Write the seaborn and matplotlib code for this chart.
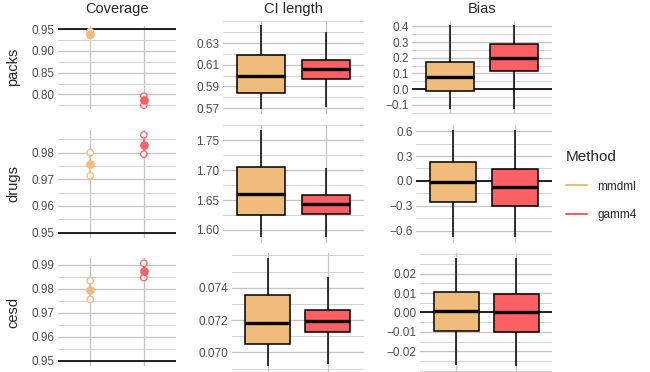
import numpy as np
import pandas as pd
import matplotlib
matplotlib.use("Agg")
import matplotlib.pyplot as plt
import seaborn as sns
from matplotlib.lines import Line2D
from matplotlib.ticker import FixedLocator, AutoMinorLocator, FixedFormatter

methods = ["mmdml", "gamm4"]
outcomes = ["packs", "drugs", "cesd"]
colors = ["#F0BC7C", "#FC6064"]

# coverage per outcome, [mmdml, gamm4]
cov_lo = [[0.936, 0.775], [0.9713, 0.9794], [0.9756, 0.9847]]
cov_est = [[0.940, 0.786], [0.9757, 0.9829], [0.9795, 0.9876]]
cov_hi = [[0.945, 0.796], [0.9800, 0.9866], [0.9834, 0.9907]]
cov_ref = 0.95

# box stats per outcome and method: lower whisker, q1, median, q3, upper whisker
ci_stats = [
    [[0.569, 0.5838, 0.5995, 0.6186, 0.6469], [0.571, 0.597, 0.606, 0.6146, 0.640]],
    [[1.5877, 1.6247, 1.6605, 1.7047, 1.7668], [1.5877, 1.6264, 1.6426, 1.6577, 1.704]],
    [[0.06915, 0.0705, 0.0718, 0.07355, 0.07582], [0.06925, 0.07126, 0.07196, 0.07262, 0.07468]],
]
bias_stats = [
    [[-0.128, -0.011, 0.078, 0.173, 0.4105], [-0.128, 0.116, 0.201, 0.289, 0.41]],
    [[-0.68, -0.259, -0.015, 0.230, 0.61], [-0.68, -0.303, -0.075, 0.146, 0.61]],
    [[-0.0273, -0.0097, 0.0005, 0.0108, 0.0279], [-0.0277, -0.0101, 0.0002, 0.0096, 0.0279]],
]

cov_ticks = [[0.80, 0.85, 0.90, 0.95], [0.95, 0.96, 0.97, 0.98], [0.95, 0.96, 0.97, 0.98, 0.99]]
ci_ticks = [[0.57, 0.59, 0.61, 0.63], [1.60, 1.65, 1.70, 1.75], [0.070, 0.072, 0.074]]
bias_ticks = [[-0.1, 0.0, 0.1, 0.2, 0.3, 0.4], [-0.6, -0.3, 0.0, 0.3, 0.6],
              [-0.02, -0.01, 0.0, 0.01, 0.02]]
cov_dec = [2, 2, 2]
ci_dec = [2, 2, 3]
bias_dec = [1, 1, 2]

sns.set_theme(style="white")
plt.rcParams["font.family"] = ["Liberation Sans", "DejaVu Sans"]

W, H = 650, 372
fig = plt.figure(figsize=(6.5, 3.72), dpi=100)


def px_axes(l, r, t, b):
    return fig.add_axes([l / W, 1 - b / H, (r - l) / W, (b - t) / H])


def style_axes(ax, ticks, dec, vals):
    lo, hi = min(vals), max(vals)
    pad = 0.05 * (hi - lo)
    ax.set_ylim(lo - pad, hi + pad)
    ax.set_xlim(-0.6, 1.6)
    ax.yaxis.set_major_locator(FixedLocator(ticks))
    ax.yaxis.set_major_formatter(FixedFormatter(
        [f"{t:.{dec}f}".replace("-", "\u2212") for t in ticks]))
    ax.yaxis.set_minor_locator(AutoMinorLocator(2))
    ax.set_xticks([0, 1])
    ax.tick_params(axis="both", which="both", length=0, labelbottom=False,
                   labelsize=8.5, labelcolor="#4D4D4D", pad=2.5)
    ax.grid(which="major", color="#C4C4C4", linewidth=0.9)
    ax.grid(which="minor", axis="y", color="#D2D2D2", linewidth=0.7)
    ax.set_axisbelow(True)
    for s in ax.spines.values():
        s.set_visible(False)
    ax.set_xlabel("")
    ax.set_ylabel("")


def box_panel(ax, stats):
    df = pd.DataFrame({"method": np.repeat(methods, 5),
                       "value": np.concatenate(stats)})
    sns.boxplot(data=df, x="method", y="value", hue="method", order=methods,
                hue_order=methods, palette=colors, saturation=1, width=0.75,
                whis=(0, 100), showcaps=False, linecolor="black", linewidth=1.1,
                fliersize=0, legend=False, ax=ax,
                medianprops=dict(linewidth=2.4, color="black"))


cov_rows = [(25.5, 109), (130, 237.6), (258.4, 365.6)]
box_rows = [(20.5, 113.5), (125, 242.6), (253, 371.5)]
ci_left = [223, 223, 232]
bias_left = [412, 416, 420]

for i, name in enumerate(outcomes):
    # Coverage
    ax = px_axes(58, 176, *cov_rows[i])
    ax.axhline(cov_ref, color="black", linewidth=1.2, zorder=1)
    pts = pd.DataFrame({"method": methods * 3,
                        "value": cov_lo[i] + cov_est[i] + cov_hi[i]})
    sns.pointplot(data=pts, x="method", y="value", hue="method", order=methods,
                  hue_order=methods, palette=colors, estimator="median",
                  errorbar=lambda v: (v.min(), v.max()), markers="o",
                  linestyles="none", markersize=4.2, err_kws={"linewidth": 1.2},
                  legend=False, ax=ax)
    for ln in ax.lines:
        if ln.get_marker() == "o":
            ln.set_zorder(5)
    ends = pd.DataFrame({"method": methods * 2, "value": cov_lo[i] + cov_hi[i]})
    n = len(ax.collections)
    sns.stripplot(data=ends, x="method", y="value", hue="method", order=methods,
                  hue_order=methods, palette=colors, jitter=False, size=4.6,
                  legend=False, ax=ax, zorder=4)
    for c in ax.collections[n:]:
        c.set_edgecolor(c.get_facecolor())
        c.set_facecolor("white")
        c.set_linewidth(0.9)
    style_axes(ax, cov_ticks[i], cov_dec[i], cov_lo[i] + cov_hi[i] + [cov_ref])
    t, b = cov_rows[i]
    fig.text(13 / W, 1 - (t + b) / 2 / H, name, rotation=90, ha="center",
             va="center", fontsize=10.5)

    # CI length
    ax = px_axes(ci_left[i], 364, *box_rows[i])
    box_panel(ax, ci_stats[i])
    style_axes(ax, ci_ticks[i], ci_dec[i], np.concatenate(ci_stats[i]))

    # Bias
    ax = px_axes(bias_left[i], 552, *box_rows[i])
    ax.axhline(0, color="black", linewidth=1.2, zorder=1)
    box_panel(ax, bias_stats[i])
    style_axes(ax, bias_ticks[i], bias_dec[i], np.concatenate(bias_stats[i]))

fig.text(117 / W, 1 - 9 / H, "Coverage", ha="center", va="center", fontsize=10.5)
fig.text(293.5 / W, 1 - 9 / H, "CI length", ha="center", va="center", fontsize=10.5)
fig.text(482 / W, 1 - 9 / H, "Bias", ha="center", va="center", fontsize=10.5)

handles = [Line2D([], [], color=c, linewidth=1.5) for c in colors]
fig.legend(handles, methods, title="Method", loc="upper left",
           bbox_to_anchor=(566 / W, 1 - 150 / H), frameon=False, fontsize=8.5,
           title_fontsize=11, handlelength=1.8, handletextpad=0.85,
           labelspacing=1.4, borderpad=0, borderaxespad=0, alignment="left")

fig.savefig("out.png", dpi=100)
